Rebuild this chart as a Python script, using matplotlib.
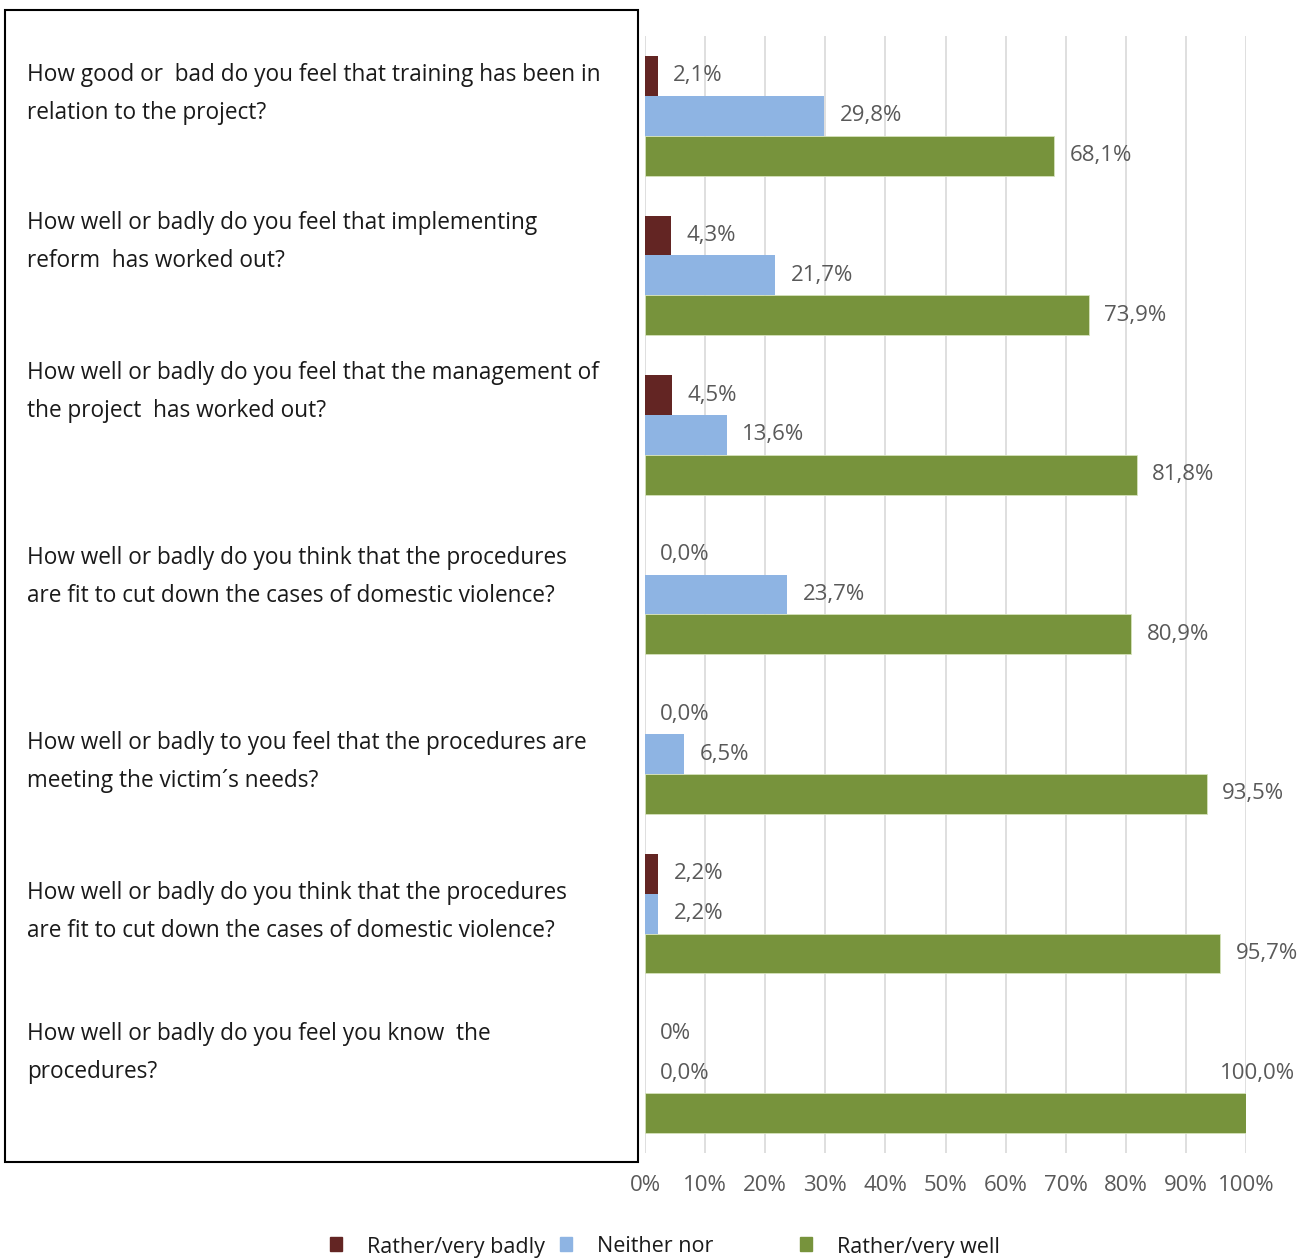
import numpy as np
import matplotlib
matplotlib.use('Agg')
import matplotlib.pyplot as plt
from matplotlib.patches import Rectangle

# Survey answers, one entry per question (top to bottom), in percent
questions = [
    ['How good or  bad do you feel that training has been in', 'relation to the project?'],
    ['How well or badly do you feel that implementing', 'reform  has worked out?'],
    ['How well or badly do you feel that the management of', 'the project  has worked out?'],
    ['How well or badly do you think that the procedures', 'are fit to cut down the cases of domestic violence?'],
    ['How well or badly to you feel that the procedures are', 'meeting the victim\u00b4s needs?'],
    ['How well or badly do you think that the procedures', 'are fit to cut down the cases of domestic violence?'],
    ['How well or badly do you feel you know  the', 'procedures?'],
]
badly = [2.1, 4.3, 4.5, 0.0, 0.0, 2.2, 0.0]
neither = [29.8, 21.7, 13.6, 23.7, 6.5, 2.2, 0.0]
well = [68.1, 73.9, 81.8, 80.9, 93.5, 95.7, 100.0]
series_names = ['Rather/very badly', 'Neither nor', 'Rather/very well']
colors = ['#632523', '#8EB4E3', '#77933C']
xticks = [0, 10, 20, 30, 40, 50, 60, 70, 80, 90, 100]

# pixel layout of the question text (first line, y from top) and legend entries
question_y = [75, 223, 373, 558, 743, 893, 1034]
line_gap = 38
legend_x = [330, 560, 800]

plt.rcParams['font.family'] = ['Open Sans', 'DejaVu Sans']

W, H = 1299, 1259
fig = plt.figure(figsize=(W / 100, H / 100), dpi=100)

ax = fig.add_axes([645 / W, 1 - 1153 / H, (1246 - 645) / W, (1153 - 36) / H])

y = np.arange(len(questions))
bh = 0.25
offsets = [-bh, 0, bh]
label_color = '#595959'
fs_lab = 16


def fmt(v):
    return f'{v:.1f}%'.replace('.', ',')


all_labels = [[fmt(v) for v in s] for s in (badly, neither, well)]
all_labels[0][-1] = '0%'

for s, (vals, col, off) in enumerate(zip((badly, neither, well), colors, offsets)):
    ax.barh(y + off, vals, height=bh, color=col,
            edgecolor='#d6e3bc' if s == 2 else 'none',
            linewidth=0.6 if s == 2 else 0, zorder=3)
    for i, v in enumerate(vals):
        if v >= 99.5:
            ax.annotate(all_labels[s][i], (v, y[i] + off - bh), xytext=(8, 0),
                        textcoords='offset points', ha='center', va='center',
                        fontsize=fs_lab, color=label_color)
        else:
            ax.annotate(all_labels[s][i], (v, y[i] + off), xytext=(11, 0),
                        textcoords='offset points', ha='left', va='center',
                        fontsize=fs_lab, color=label_color)

ax.set_ylim(len(questions) - 0.5, -0.5)
ax.set_xlim(0, 100)
ax.set_xticks(xticks)
ax.set_xticklabels([f'{t}%' for t in xticks], fontsize=fs_lab, color=label_color)
ax.tick_params(axis='x', length=0, pad=16)
ax.set_yticks([])
ax.grid(axis='x', color='#d9d9d9', linewidth=1.2, zorder=0)
for sp in ax.spines.values():
    sp.set_visible(False)

# box with the questions
fig.patches.append(Rectangle((5 / W, 1 - 1162 / H), (638 - 5) / W, (1162 - 10) / H,
                             transform=fig.transFigure, fill=False,
                             edgecolor='black', linewidth=1.5))
for q, qy in zip(questions, question_y):
    for k, line in enumerate(q):
        fig.text(27 / W, 1 - (qy + k * line_gap) / H, line, fontsize=16.3,
                 color='#1a1a1a', va='center', ha='left')

# legend at the bottom, equal-width entries as in the original
for name, col, lx in zip(series_names, colors, legend_x):
    fig.patches.append(Rectangle((lx / W, 1 - 1251 / H), 12 / W, 14 / H,
                                 transform=fig.transFigure, color=col))
    fig.text((lx + 37) / W, 1 - 1247 / H, name, fontsize=15.5,
             color='#1a1a1a', va='center', ha='left')

fig.savefig('out.png', dpi=100)
